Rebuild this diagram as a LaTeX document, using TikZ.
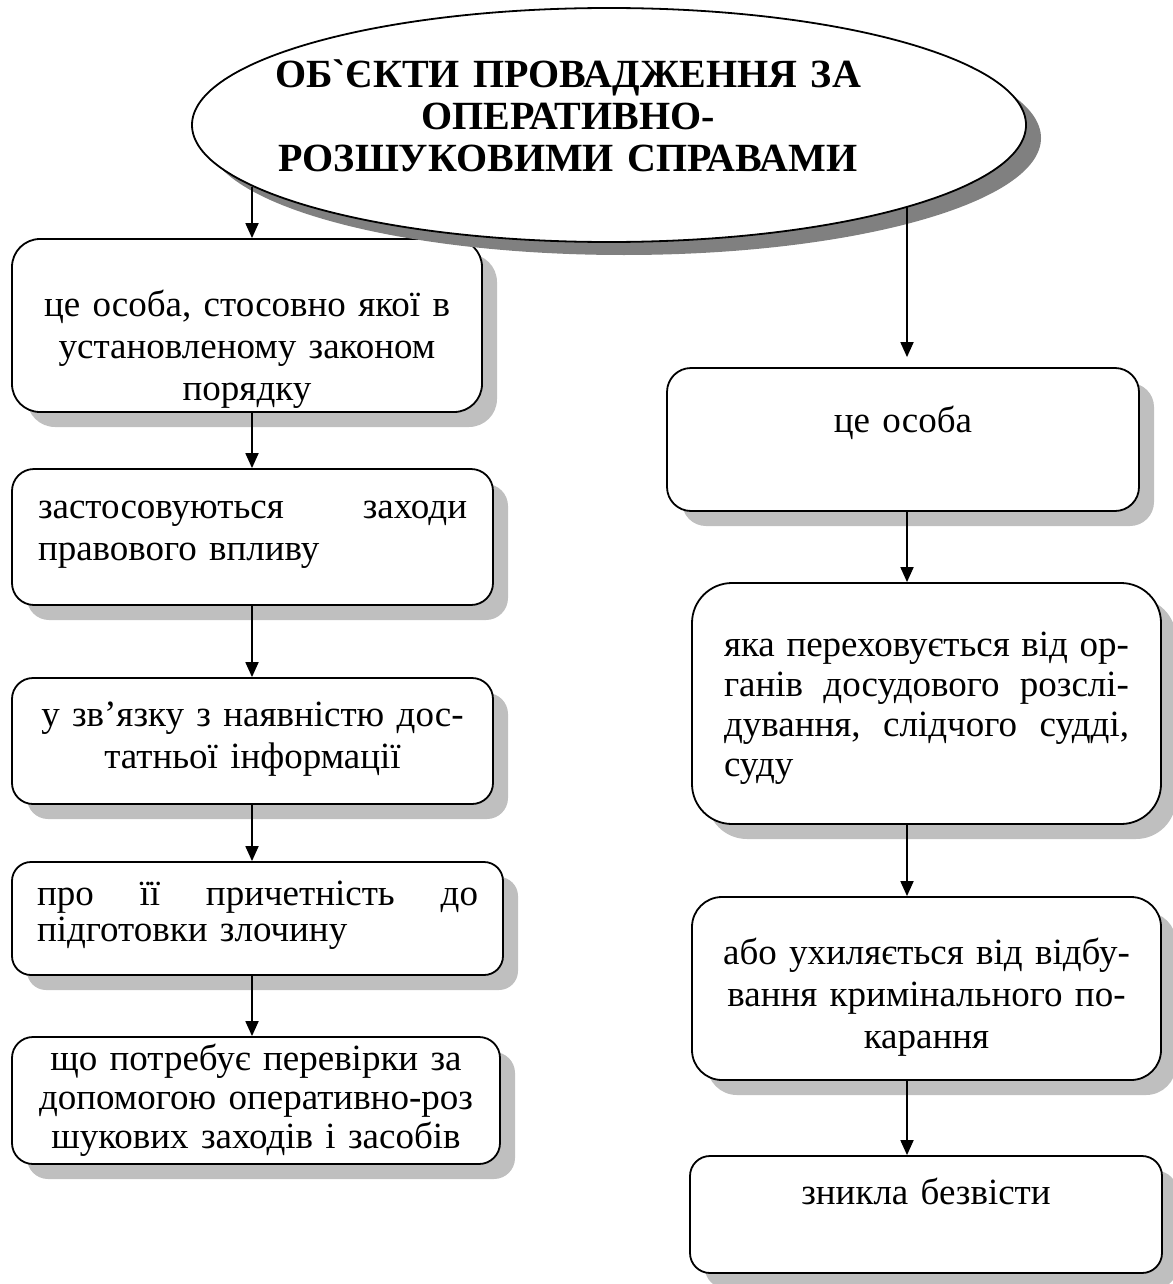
\documentclass[tikz,border=0pt]{standalone}
\usepackage{fontspec}
\setmainfont{Liberation Serif}
\usetikzlibrary{positioning,shadows,arrows.meta,shapes.geometric}

\begin{document}
\begin{tikzpicture}[x=0.5pt,y=-0.5pt,
  box/.style={draw,line width=0.9pt,rounded corners=#1,fill=white,
    drop shadow={shadow xshift=7.5pt,shadow yshift=-7.5pt,fill=black!25,opacity=1}},
  txt/.style={inner sep=0pt,text width=#1,font=\fontsize{18.5}{21}\selectfont},
  arr/.style={line width=0.9pt,-{Triangle[length=7.5pt,width=6.5pt]}}]
\useasboundingbox (0,0) rectangle (1172,1284);

% left column
\node[box=14pt,minimum width=235pt,minimum height=86.5pt] (l1) at (247,325.5) {};
\node[box=11pt,minimum width=240.5pt,minimum height=68pt] (l2) at (252.5,537) {};
\node[box=10.5pt,minimum width=240.5pt,minimum height=63pt] (l3) at (252.5,741) {};
\node[box=9.5pt,minimum width=245.5pt,minimum height=56.5pt] (l4) at (257.5,918.5) {};
\node[box=10.5pt,minimum width=244pt,minimum height=63.5pt] (l5) at (256,1100.5) {};

\node[txt=230pt,align=center,below=24.5pt of l1.north] (t1) {\strut це особа, стосовно якої в\\ установленому законом\\ порядку};
\node[txt=214.5pt,align=left,below=10.3pt of l2.north] (t2) {\strut застосовуються\hfill заходи\\ правового впливу};
\node[txt=230pt,align=center,below=9.8pt of l3.north] (t3) {\strut у зв’язку з наявністю дос-\\ татньої інформації};
\node[txt=220.5pt,align=left,font=\fontsize{18.5}{17}\selectfont,below=9.6pt of l4.north] (t4) {\strut про\hfill її\hfill причетність\hfill до\\ підготовки злочину};
\node[txt=235pt,align=center,font=\fontsize{18.5}{19.5}\selectfont,below=3.4pt of l5.north] (t5) {\strut що потребує перевірки за\\ допомогою оперативно-роз\\ шукових заходів і засобів};

% right column
\node[box=12pt,minimum width=236pt,minimum height=71.5pt] (r1) at (903,439.5) {};
\node[box=20pt,minimum width=234.5pt,minimum height=120.5pt] (r2) at (926.5,703.5) {};
\node[box=15pt,minimum width=234.5pt,minimum height=91.5pt] (r3) at (926.5,988.5) {};
\node[box=10pt,minimum width=236pt,minimum height=58.5pt] (r4) at (926,1214.5) {};

\node[txt=220pt,align=center,below=17.8pt of r1.north] (s1) {\strut це особа};
\node[txt=202.5pt,align=left,font=\fontsize{18.5}{20}\selectfont,below=23pt of r2.north] (s2) {\strut яка\hfill переховується\hfill від\hfill ор-\\ ганів\hfill досудового\hfill розслі-\\ дування,\hfill слідчого\hfill судді,\\ суду};
\node[txt=220pt,align=center,below=19.3pt of r3.north] (s3) {\strut або ухиляється від відбу-\\ вання кримінального по-\\ карання};
\node[txt=220pt,align=center,below=9.8pt of r4.north] (s4) {\strut зникла безвісти};

% title
\node[ellipse,draw,line width=0.9pt,fill=white,minimum width=417pt,minimum height=117pt,
  drop shadow={shadow xshift=7.5pt,shadow yshift=-6.5pt,fill=black!50,opacity=1}] (ell) at (609,125) {};
\node[txt=330pt,align=center,font=\fontsize{20}{21}\selectfont\bfseries,anchor=north] (ttl) at (568,58)
  {\strut ОБ\textasciigrave ЄКТИ ПРОВАДЖЕННЯ ЗА\\ ОПЕРАТИВНО-\\ РОЗШУКОВИМИ СПРАВАМИ};

\coordinate (lx) at (252,0);
\coordinate (rx) at (907,0);

\draw[arr] (ell.190 -| lx) -- (l1.north -| lx);
\draw[arr] (l1.south -| lx) -- (l2.north -| lx);
\draw[arr] (l2.south -| lx) -- (l3.north -| lx);
\draw[arr] (l3.south -| lx) -- (l4.north -| lx);
\draw[arr] (l4.south -| lx) -- (l5.north -| lx);

\draw[arr,shorten >=5pt] (ell.345 -| rx) -- (r1.north -| rx);
\draw[arr] (r1.south -| rx) -- (r2.north -| rx);
\draw[arr] (r2.south -| rx) -- (r3.north -| rx);
\draw[arr] (r3.south -| rx) -- (r4.north -| rx);

\end{tikzpicture}
\end{document}
